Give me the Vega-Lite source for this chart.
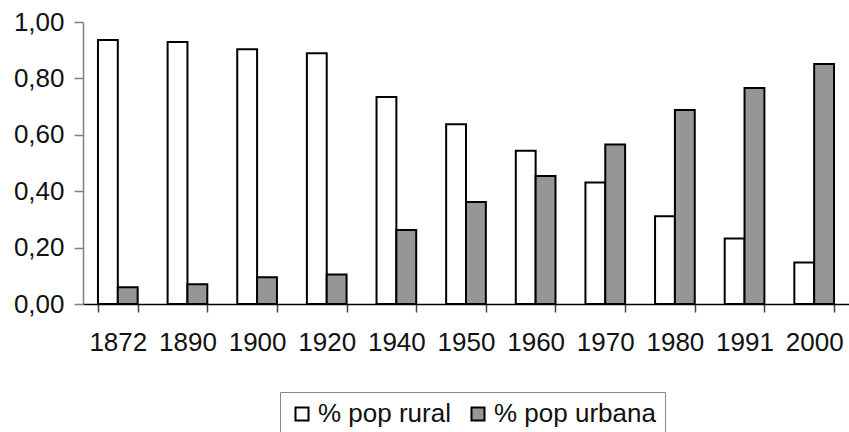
{
  "$schema": "https://vega.github.io/schema/vega-lite/v6.json",
  "autosize": {"type": "none"},
  "width": 766,
  "height": 282,
  "padding": {"left": 83, "top": 22, "right": 0, "bottom": 128},
  "background": "white",
  "data": {
    "values": [
      {"year": "1872", "serie": "% pop rural", "valor": 0.936},
      {"year": "1872", "serie": "% pop urbana", "valor": 0.059},
      {"year": "1890", "serie": "% pop rural", "valor": 0.929},
      {"year": "1890", "serie": "% pop urbana", "valor": 0.070},
      {"year": "1900", "serie": "% pop rural", "valor": 0.903},
      {"year": "1900", "serie": "% pop urbana", "valor": 0.095},
      {"year": "1920", "serie": "% pop rural", "valor": 0.889},
      {"year": "1920", "serie": "% pop urbana", "valor": 0.105},
      {"year": "1940", "serie": "% pop rural", "valor": 0.734},
      {"year": "1940", "serie": "% pop urbana", "valor": 0.262},
      {"year": "1950", "serie": "% pop rural", "valor": 0.637},
      {"year": "1950", "serie": "% pop urbana", "valor": 0.362},
      {"year": "1960", "serie": "% pop rural", "valor": 0.543},
      {"year": "1960", "serie": "% pop urbana", "valor": 0.454},
      {"year": "1970", "serie": "% pop rural", "valor": 0.431},
      {"year": "1970", "serie": "% pop urbana", "valor": 0.566},
      {"year": "1980", "serie": "% pop rural", "valor": 0.311},
      {"year": "1980", "serie": "% pop urbana", "valor": 0.688},
      {"year": "1991", "serie": "% pop rural", "valor": 0.232},
      {"year": "1991", "serie": "% pop urbana", "valor": 0.766},
      {"year": "2000", "serie": "% pop rural", "valor": 0.147},
      {"year": "2000", "serie": "% pop urbana", "valor": 0.851}
    ]
  },
  "mark": {"type": "bar", "stroke": "black", "strokeWidth": 2},
  "encoding": {
    "x": {
      "field": "year",
      "type": "nominal",
      "sort": null,
      "scale": {"paddingInner": 0.43, "paddingOuter": 0.215},
      "axis": {
        "title": null,
        "labelAngle": 0,
        "labelFont": "Liberation Sans",
        "labelFontSize": 26,
        "labelColor": "#111111",
        "labelPadding": 17,
        "tickSize": 8,
        "tickBand": "extent",
        "tickColor": "#444444",
        "tickWidth": 1.5,
        "domainColor": "black",
        "domainWidth": 1.5
      }
    },
    "xOffset": {
      "field": "serie",
      "type": "nominal",
      "sort": ["% pop rural", "% pop urbana"],
      "scale": {"paddingInner": 0, "paddingOuter": 0}
    },
    "y": {
      "field": "valor",
      "type": "quantitative",
      "scale": {"domain": [0, 1], "nice": false},
      "axis": {
        "title": null,
        "values": [0, 0.2, 0.4, 0.6, 0.8, 1.0],
        "labelExpr": "replace(format(datum.value, '.2f'), '.', ',')",
        "grid": false,
        "labelFont": "Liberation Sans",
        "labelFontSize": 26,
        "labelColor": "#111111",
        "labelPadding": 10,
        "tickSize": 9,
        "tickColor": "#808080",
        "tickWidth": 1.5,
        "domainColor": "#808080",
        "domainWidth": 1.5
      }
    },
    "fill": {
      "field": "serie",
      "type": "nominal",
      "sort": ["% pop rural", "% pop urbana"],
      "scale": {"domain": ["% pop rural", "% pop urbana"], "range": ["#ffffff", "#969696"]},
      "legend": {
        "title": null,
        "orient": "none",
        "direction": "horizontal",
        "legendX": 197,
        "legendY": 370,
        "padding": 9,
        "strokeColor": "#888888",
        "symbolType": "square",
        "symbolSize": 169,
        "symbolStrokeColor": "black",
        "symbolStrokeWidth": 2,
        "labelFont": "Liberation Sans",
        "labelFontSize": 26,
        "labelColor": "#111111",
        "labelOffset": 3,
        "labelLimit": 400,
        "columnPadding": 14
      }
    }
  },
  "config": {
    "view": {"stroke": null}
  }
}
